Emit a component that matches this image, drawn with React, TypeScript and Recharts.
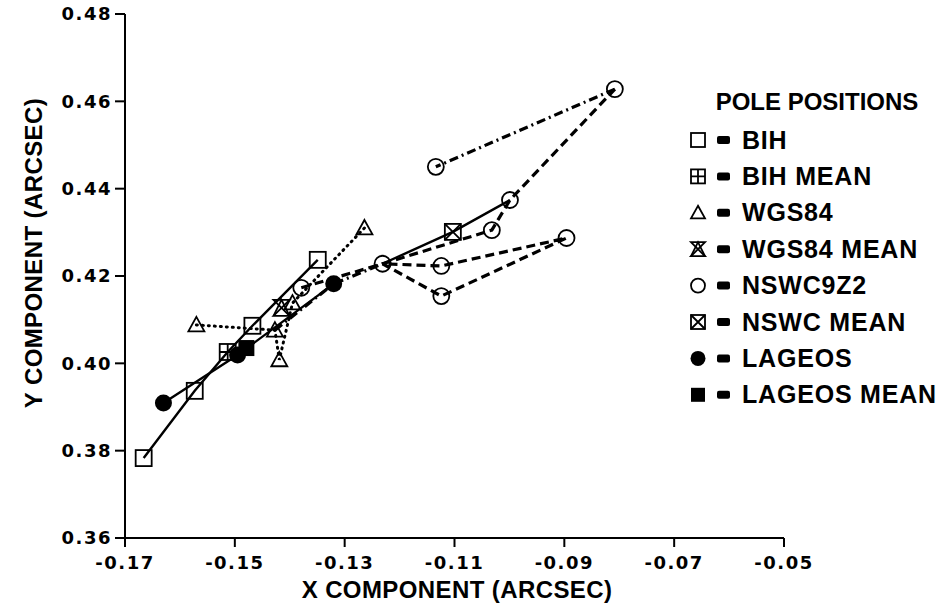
import React from 'react'
import { ScatterChart, Scatter, XAxis, YAxis, Label } from 'recharts'

const xTicks = [-0.17, -0.15, -0.13, -0.11, -0.09, -0.07, -0.05]
const yTicks = [0.36, 0.38, 0.4, 0.42, 0.44, 0.46, 0.48]

// BIH pole positions (open squares)
const bih = [
  { x: -0.1666, y: 0.3783 },
  { x: -0.1573, y: 0.3937 },
  { x: -0.1468, y: 0.4086 },
  { x: -0.1349, y: 0.4237 },
]
const bihMean = [{ x: -0.1513, y: 0.4026 }]

// WGS84 (open triangles)
const wgs84 = [
  { x: -0.157, y: 0.4088 },
  { x: -0.1427, y: 0.4076 },
  { x: -0.1419, y: 0.4008 },
  { x: -0.1395, y: 0.4138 },
  { x: -0.1264, y: 0.431 },
]
const wgs84Mean = [{ x: -0.1415, y: 0.4127 }]

// NSWC 9Z2 (open circles)
const nswc = [
  { x: -0.1379, y: 0.4173 },
  { x: -0.1231, y: 0.4228 },
  { x: -0.1124, y: 0.4223 },
  { x: -0.1124, y: 0.4154 },
  { x: -0.0896, y: 0.4287 },
  { x: -0.1032, y: 0.4305 },
  { x: -0.0999, y: 0.4374 },
  { x: -0.0808, y: 0.4628 },
  { x: -0.1134, y: 0.445 },
]
const nswcMean = [{ x: -0.1103, y: 0.4301 }]

// LAGEOS (filled circles)
const lageos = [
  { x: -0.163, y: 0.3909 },
  { x: -0.1495, y: 0.4019 },
  { x: -0.132, y: 0.4182 },
]
const lageosMean = [{ x: -0.1479, y: 0.4035 }]

const legendNames = ['BIH', 'BIH MEAN', 'WGS84', 'WGS84 MEAN', 'NSWC9Z2', 'NSWC MEAN', 'LAGEOS', 'LAGEOS MEAN']
const legendKinds = ['square', 'squarePlus', 'triangle', 'hourglass', 'circle', 'squareX', 'dot', 'filledSquare']

// connecting lines, built from the points above
const bihLine = [bih[0], bih[1], bihMean[0], bih[2], bih[3]]
const lageosLine = [lageos[0], lageos[1], lageos[2]]
const wgsLine = [wgs84[0], wgs84[1], wgs84[2], wgs84[3], wgs84[4]]
const nswcLoop = [nswc[0], nswc[1], nswc[3], nswc[4], nswc[2], nswc[1]]
const nswcUpper = [nswc[1], nswc[5], nswc[6], nswc[7]]
const nswcDashDot = [nswc[7], nswc[8]]
const lowerDashDot = [wgs84[1], lageos[2], nswc[1]]
const meanLine = [nswc[1], nswcMean[0], nswc[6]]

const FONT = '"Liberation Sans", Arial, sans-serif'
const NUM_FONT = '"DejaVu Sans", sans-serif'

function Marker({ kind, cx, cy, r }: { kind: string; cx: number; cy: number; r: number }) {
  const p = { fill: 'none', stroke: '#000', strokeWidth: 1.8 }
  switch (kind) {
    case 'square':
      return <rect x={cx - r} y={cy - r} width={2 * r} height={2 * r} {...p} />
    case 'squarePlus':
      return (
        <g {...p}>
          <rect x={cx - r} y={cy - r} width={2 * r} height={2 * r} />
          <path d={`M${cx - r},${cy}H${cx + r}M${cx},${cy - r}V${cy + r}`} />
        </g>
      )
    case 'triangle':
      return <path d={`M${cx},${cy - r}L${cx + r},${cy + r * 0.8}L${cx - r},${cy + r * 0.8}Z`} {...p} />
    case 'hourglass':
      return (
        <g {...p}>
          <path d={`M${cx - r},${cy - r}H${cx + r}L${cx - r},${cy + r}H${cx + r}Z`} />
          <path d={`M${cx - r},${cy + r}L${cx},${cy - r}L${cx + r},${cy + r}`} />
        </g>
      )
    case 'circle':
      return <circle cx={cx} cy={cy} r={r} {...p} />
    case 'squareX':
      return (
        <g {...p}>
          <rect x={cx - r} y={cy - r} width={2 * r} height={2 * r} />
          <path d={`M${cx - r},${cy - r}L${cx + r},${cy + r}M${cx + r},${cy - r}L${cx - r},${cy + r}`} />
        </g>
      )
    case 'dot':
      return <circle cx={cx} cy={cy} r={r + 0.5} fill="#000" />
    case 'filledSquare':
      return <rect x={cx - r} y={cy - r} width={2 * r} height={2 * r} fill="#000" />
    default:
      return <g />
  }
}

const shapeOf = (kind: string) => (props: any) => <Marker kind={kind} cx={props.cx} cy={props.cy} r={8} />
const NoMark = () => <g />

function PoleLegend() {
  return (
    <svg width={271} height={340} style={{ position: 'absolute', left: 680, top: 80 }}>
      <text x={137} y={30} textAnchor="middle" fontFamily={FONT} fontWeight="bold" fontSize={24} fill="#000">
        POLE POSITIONS
      </text>
      {legendNames.map((name, i) => {
        const cy = 60 + i * 36.4
        return (
          <g key={name}>
            <Marker kind={legendKinds[i]} cx={18} cy={cy} r={7} />
            <rect x={37} y={cy - 4} width={13} height={8} rx={2} fill="#000" />
            <text x={62} y={cy + 8.6} fontFamily={FONT} fontWeight="bold" fontSize={25} letterSpacing={0.8} fill="#000">
              {name}
            </text>
          </g>
        )
      })}
    </svg>
  )
}

const tickStyle = { fill: '#000', fontSize: 18, fontWeight: 'bold', fontFamily: NUM_FONT, letterSpacing: 1.5 }

export default function App() {
  return (
    <div style={{ position: 'absolute', left: 0, top: 0, width: 951, height: 610, background: '#fff' }}>
      <ScatterChart width={951} height={610} margin={{ top: 14, right: 167, bottom: 0, left: 0 }}>
        <XAxis
          type="number"
          dataKey="x"
          domain={[-0.17, -0.05]}
          ticks={xTicks}
          interval={0}
          allowDataOverflow
          tickFormatter={(v: number) => v.toFixed(2)}
          height={72}
          tickSize={9}
          tickMargin={9}
          tick={tickStyle}
          axisLine={{ stroke: '#000', strokeWidth: 2 }}
          tickLine={{ stroke: '#000', strokeWidth: 2 }}
        >
          <Label
            content={() => (
              <text x={457} y={598} textAnchor="middle" fontFamily={FONT} fontWeight="bold" fontSize={24} letterSpacing={0.4} fill="#000">
                X COMPONENT (ARCSEC)
              </text>
            )}
          />
        </XAxis>
        <YAxis
          type="number"
          dataKey="y"
          domain={[0.36, 0.48]}
          ticks={yTicks}
          interval={0}
          allowDataOverflow
          tickFormatter={(v: number) => v.toFixed(2)}
          width={125}
          tickSize={10}
          tickMargin={3}
          tick={tickStyle}
          axisLine={{ stroke: '#000', strokeWidth: 2 }}
          tickLine={{ stroke: '#000', strokeWidth: 2 }}
        >
          <Label
            content={() => (
              <text
                transform="translate(42,253) rotate(-90)"
                textAnchor="middle"
                fontFamily={FONT}
                fontWeight="bold"
                fontSize={24}
                letterSpacing={0.4}
                fill="#000"
              >
                Y COMPONENT (ARCSEC)
              </text>
            )}
          />
        </YAxis>

        <Scatter data={bihLine} shape={NoMark} line={{ stroke: '#000', strokeWidth: 2.4 }} lineType="joint" isAnimationActive={false} />
        <Scatter data={lageosLine} shape={NoMark} line={{ stroke: '#000', strokeWidth: 2.4 }} lineType="joint" isAnimationActive={false} />
        <Scatter data={meanLine} shape={NoMark} line={{ stroke: '#000', strokeWidth: 2.4 }} lineType="joint" isAnimationActive={false} />
        <Scatter data={wgsLine} shape={NoMark} line={{ stroke: '#000', strokeWidth: 3, strokeDasharray: '1 5', strokeLinecap: 'round' }} lineType="joint" isAnimationActive={false} />
        <Scatter data={nswcLoop} shape={NoMark} line={{ stroke: '#000', strokeWidth: 3.2, strokeDasharray: '9 5' }} lineType="joint" isAnimationActive={false} />
        <Scatter data={nswcUpper} shape={NoMark} line={{ stroke: '#000', strokeWidth: 3.2, strokeDasharray: '9 5' }} lineType="joint" isAnimationActive={false} />
        <Scatter data={nswcDashDot} shape={NoMark} line={{ stroke: '#000', strokeWidth: 3.2, strokeDasharray: '9 4 2 4' }} lineType="joint" isAnimationActive={false} />
        <Scatter data={lowerDashDot} shape={NoMark} line={{ stroke: '#000', strokeWidth: 3.2, strokeDasharray: '9 4 2 4' }} lineType="joint" isAnimationActive={false} />

        <Scatter data={bih} shape={shapeOf('square')} isAnimationActive={false} />
        <Scatter data={bihMean} shape={shapeOf('squarePlus')} isAnimationActive={false} />
        <Scatter data={wgs84} shape={shapeOf('triangle')} isAnimationActive={false} />
        <Scatter data={wgs84Mean} shape={shapeOf('hourglass')} isAnimationActive={false} />
        <Scatter data={nswc} shape={shapeOf('circle')} isAnimationActive={false} />
        <Scatter data={nswcMean} shape={shapeOf('squareX')} isAnimationActive={false} />
        <Scatter data={lageos} shape={shapeOf('dot')} isAnimationActive={false} />
        <Scatter data={lageosMean} shape={shapeOf('filledSquare')} isAnimationActive={false} />
      </ScatterChart>
      <PoleLegend />
    </div>
  )
}
